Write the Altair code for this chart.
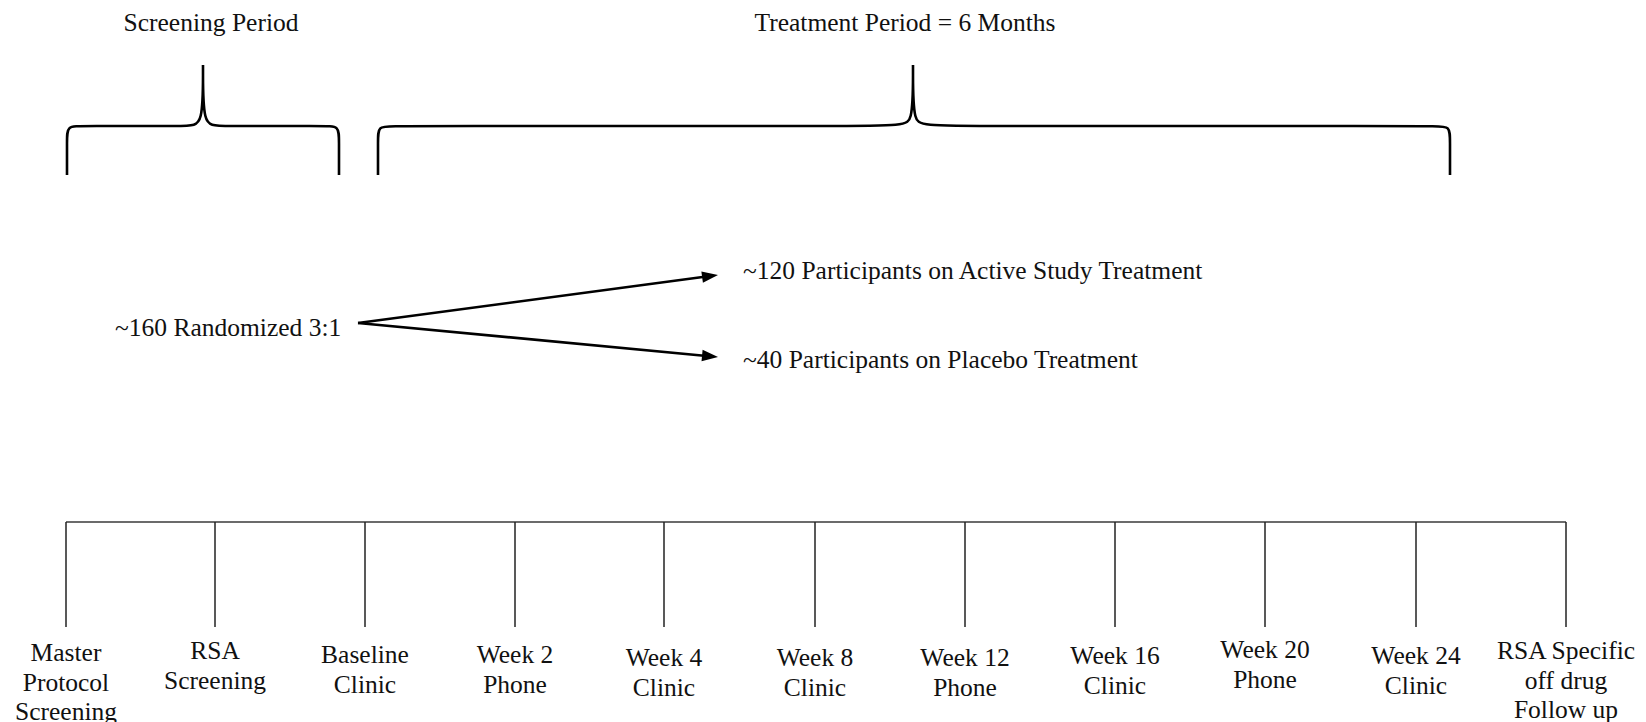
import altair as alt
import pandas as pd
import math

# ---------------- data (page pixel coordinates of the diagram) ----------------
visit_labels = [
    "Master\nProtocol\nScreening", "RSA\nScreening", "Baseline\nClinic",
    "Week 2\nPhone", "Week 4\nClinic", "Week 8\nClinic", "Week 12\nPhone",
    "Week 16\nClinic", "Week 20\nPhone", "Week 24\nClinic",
    "RSA Specific\noff drug\nFollow up",
]
visit_x = [66, 215, 365, 515, 664, 815, 965, 1115, 1265, 1416, 1566]
visit_label_y = [661, 659, 663, 663, 666, 666, 666, 664, 658, 664, 659]
timeline_y = [522]
tick_bottom = [627]

brace_names = ["Screening Period", "Treatment Period = 6 Months"]
brace_left = [67, 378]
brace_tip = [203, 913]
brace_right = [339, 1450]
brace_top = [126, 126]
brace_bottom = [175, 175]
brace_tip_y = [65, 65]
brace_title_x = [211, 905]
brace_title_y = [31, 31]

rand_label = ["~160 Randomized 3:1"]
rand_xy = [(115, 336)]
arm_labels = ["~120 Participants on Active Study Treatment",
              "~40 Participants on Placebo Treatment"]
arm_label_xy = [(743, 279), (743, 368)]
arrow_start = (358, 323)
arrow_tips = [(718, 275), (718, 357)]

FONT = "Liberation Serif"
FS = 25.5
W, H = 1630, 714
xs = alt.Scale(domain=[8, 8 + W], nice=False, zero=False)
ys = alt.Scale(domain=[8, 8 + H], nice=False, zero=False, reverse=True)

# ---------------- braces ----------------
rows = []
r = 14
for b, name in enumerate(brace_names):
    L, T, R = brace_left[b], brace_tip[b], brace_right[b]
    top, bot, ty = brace_top[b], brace_bottom[b], brace_tip_y[b]
    pts = [(L, bot), (L, bot), (L, top + r), (L, top), (L + r, top),
           (T - r, top), (T, top), (T, ty), (T, ty), (T, ty), (T, top),
           (T + r, top), (R - r, top), (R, top), (R, top + r), (R, bot), (R, bot)]
    for i, (px, py) in enumerate(pts):
        rows.append({"brace": name, "i": i, "x": px, "y": py})
brace_df = pd.DataFrame(rows)

braces = alt.Chart(brace_df).mark_line(
    interpolate="basis", color="#000000", strokeWidth=2.6
).encode(
    x=alt.X("x:Q", scale=xs, axis=None),
    y=alt.Y("y:Q", scale=ys, axis=None),
    detail="brace:N",
    order="i:Q",
)

brace_titles = alt.Chart(pd.DataFrame({
    "t": brace_names, "x": brace_title_x, "y": brace_title_y
})).mark_text(font=FONT, fontSize=FS, color="#111111", align="center",
              baseline="alphabetic").encode(
    x=alt.X("x:Q", scale=xs, axis=None),
    y=alt.Y("y:Q", scale=ys, axis=None),
    text="t:N",
)

# ---------------- randomisation arrows ----------------
arr_rows = []
for (tx, ty) in arrow_tips:
    ang = math.degrees(math.atan2(ty - arrow_start[1], tx - arrow_start[0]))
    arr_rows.append({"x": arrow_start[0], "y": arrow_start[1],
                     "x2": tx - 6 * math.cos(math.radians(ang)),
                     "y2": ty - 6 * math.sin(math.radians(ang)),
                     "tx": tx, "ty": ty, "ang": (ang + 360) % 360})
arr_df = pd.DataFrame(arr_rows)

arrow_lines = alt.Chart(arr_df).mark_rule(color="#000000", strokeWidth=2.6).encode(
    x=alt.X("x:Q", scale=xs, axis=None),
    y=alt.Y("y:Q", scale=ys, axis=None),
    x2="x2:Q", y2="y2:Q",
)
arrow_heads = alt.Chart(arr_df).mark_point(
    shape="M -1 -0.36 L 0 0 L -1 0.36 Z", filled=True, color="#000000",
    size=1024, opacity=1, strokeWidth=0
).encode(
    x=alt.X("tx:Q", scale=xs, axis=None),
    y=alt.Y("ty:Q", scale=ys, axis=None),
    angle=alt.Angle("ang:Q", scale=None),
)

left_text = alt.Chart(pd.DataFrame({
    "t": rand_label + arm_labels,
    "x": [p[0] for p in rand_xy + arm_label_xy],
    "y": [p[1] for p in rand_xy + arm_label_xy],
})).mark_text(font=FONT, fontSize=FS, color="#111111", align="left",
              baseline="alphabetic").encode(
    x=alt.X("x:Q", scale=xs, axis=None),
    y=alt.Y("y:Q", scale=ys, axis=None),
    text="t:N",
)

# ---------------- timeline ----------------
tl = alt.Chart(pd.DataFrame({
    "x": [visit_x[0]], "x2": [visit_x[-1]], "y": timeline_y
})).mark_rule(color="#3a3a3a", strokeWidth=1.6).encode(
    x=alt.X("x:Q", scale=xs, axis=None), x2="x2:Q",
    y=alt.Y("y:Q", scale=ys, axis=None),
)
ticks_df = pd.DataFrame({"x": visit_x, "y": timeline_y * len(visit_x),
                         "y2": tick_bottom * len(visit_x),
                         "label": visit_labels, "ly": visit_label_y})
ticks = alt.Chart(ticks_df).mark_rule(color="#222222", strokeWidth=1.5).encode(
    x=alt.X("x:Q", scale=xs, axis=None),
    y=alt.Y("y:Q", scale=ys, axis=None), y2="y2:Q",
)
tick_labels = alt.Chart(ticks_df).mark_text(
    font=FONT, fontSize=FS, color="#111111", align="center",
    baseline="alphabetic", lineBreak="\n", lineHeight=29.5
).encode(
    x=alt.X("x:Q", scale=xs, axis=None),
    y=alt.Y("ly:Q", scale=ys, axis=None),
    text="label:N",
)

chart = alt.layer(
    braces, brace_titles, arrow_lines, arrow_heads, left_text, tl, ticks, tick_labels
).properties(width=W, height=H, padding=0, autosize="none").configure_view(stroke=None)

chart.save("out.html", embed_options={"renderer": "svg", "actions": False})
